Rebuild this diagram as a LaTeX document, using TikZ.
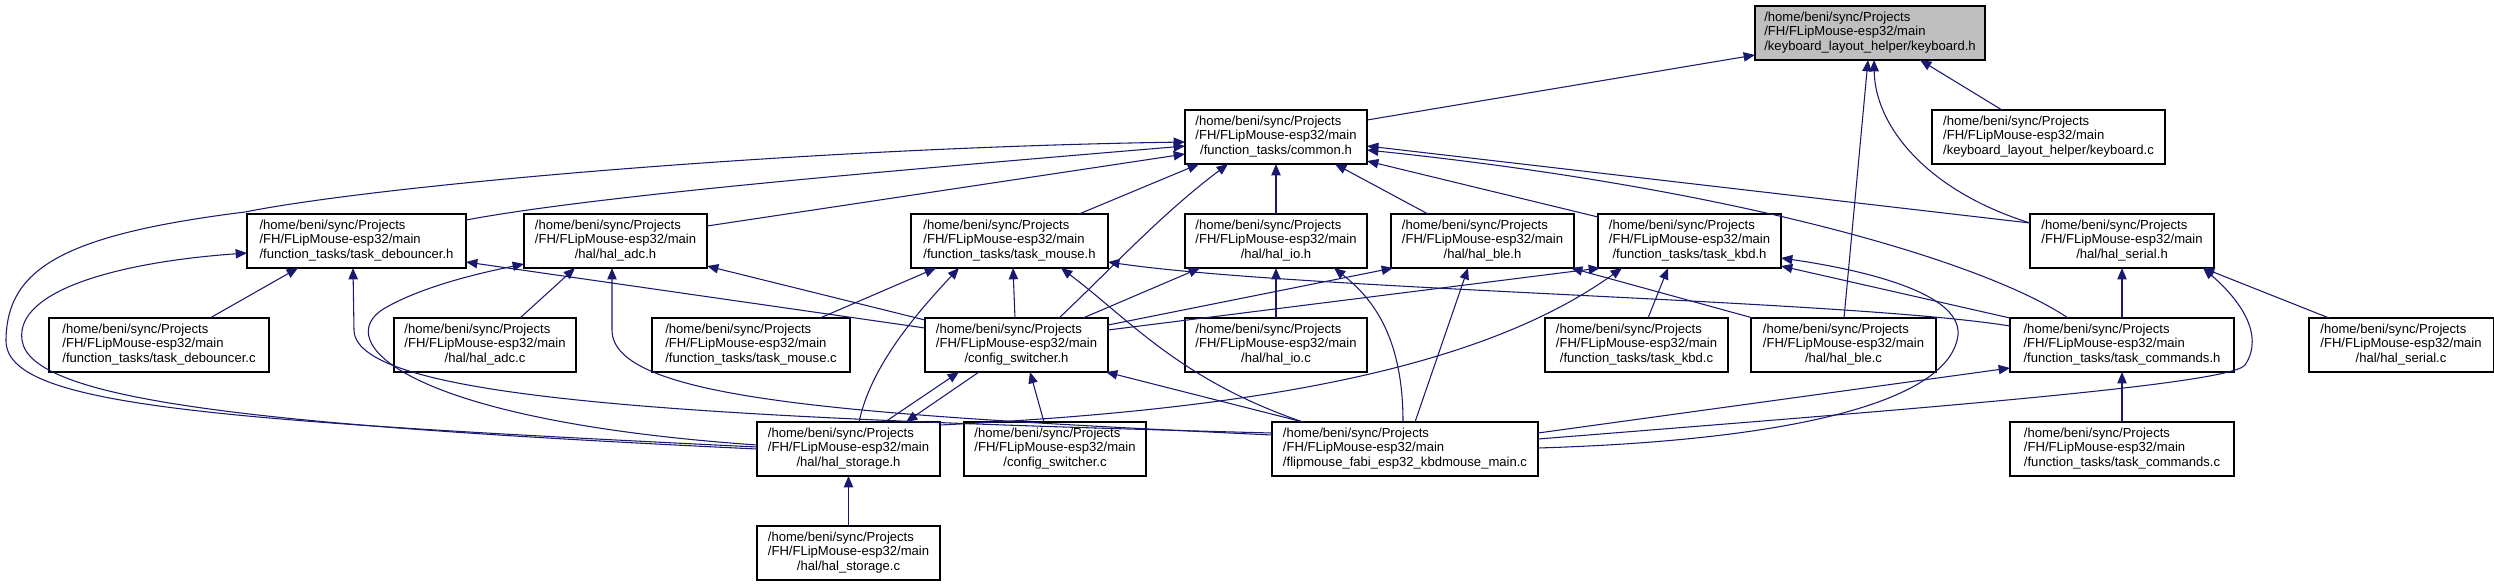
\documentclass[tikz,border=0pt]{standalone}
\usepackage{fontspec}
\setmainfont{Liberation Sans}
\usetikzlibrary{arrows.meta}
\definecolor{edgecol}{HTML}{191970}
\definecolor{rootfill}{HTML}{BFBFBF}
\newcommand{\lbl}[1]{\begin{tabular}{@{}l@{}}/home/beni/sync/Projects\\/FH/FLipMouse-esp32/main\\\multicolumn{1}{@{}c@{}}{#1}\end{tabular}}
\begin{document}
\begin{tikzpicture}[x=0.75pt,y=-0.75pt,
  box/.style={draw=black, line width=0.8pt, fill=white, rectangle, inner sep=0pt, outer sep=0pt,
    minimum height=40.5pt, font=\fontsize{9.8pt}{11.1pt}\selectfont},
  edge/.style={draw=edgecol, line width=0.8pt, -{Triangle[length=8.5pt,width=7pt]}}]
\useasboundingbox (0,0) rectangle (2494,587);
% row 0
\node[box, fill=rootfill, minimum width=172.5pt] (KH) at (1870,33) {\lbl{/keyboard\_layout\_helper/keyboard.h}};
% row 1
\node[box, minimum width=136.5pt] (CH) at (1276,137) {\lbl{/function\_tasks/common.h}};
\node[box, minimum width=174.75pt] (KC) at (2048.5,137) {\lbl{/keyboard\_layout\_helper/keyboard.c}};
% row 2
\node[box, minimum width=164.25pt] (TDH) at (356.5,241) {\lbl{/function\_tasks/task\_debouncer.h}};
\node[box, minimum width=137.25pt] (ADH) at (615.5,241) {\lbl{/hal/hal\_adc.h}};
\node[box, minimum width=147.75pt] (TMH) at (1009.5,241) {\lbl{/function\_tasks/task\_mouse.h}};
\node[box, minimum width=136.5pt] (IOH) at (1276,241) {\lbl{/hal/hal\_io.h}};
\node[box, minimum width=137.25pt] (BLH) at (1482.5,241) {\lbl{/hal/hal\_ble.h}};
\node[box, minimum width=137.25pt] (TKH) at (1689.5,241) {\lbl{/function\_tasks/task\_kbd.h}};
\node[box, minimum width=138pt] (SEH) at (2122,241) {\lbl{/hal/hal\_serial.h}};
% row 3
\node[box, minimum width=165pt] (TDC) at (159,345) {\lbl{/function\_tasks/task\_debouncer.c}};
\node[box, minimum width=136.5pt] (ADC) at (485,345) {\lbl{/hal/hal\_adc.c}};
\node[box, minimum width=148.5pt] (TMC) at (751,345) {\lbl{/function\_tasks/task\_mouse.c}};
\node[box, minimum width=137.25pt] (CSH) at (1016.5,345) {\lbl{/config\_switcher.h}};
\node[box, minimum width=136.5pt] (IOC) at (1276,345) {\lbl{/hal/hal\_io.c}};
\node[box, minimum width=137.25pt] (TKC) at (1636.5,345) {\lbl{/function\_tasks/task\_kbd.c}};
\node[box, minimum width=138.75pt] (BLC) at (1843.5,345) {\lbl{/hal/hal\_ble.c}};
\node[box, minimum width=168pt] (TCH) at (2122,345) {\lbl{/function\_tasks/task\_commands.h}};
\node[box, minimum width=138pt] (SEC) at (2401,345) {\lbl{/hal/hal\_serial.c}};
% row 4
\node[box, minimum width=137.25pt] (STH) at (848.5,449) {\lbl{/hal/hal\_storage.h}};
\node[box, minimum width=136.5pt] (CSC) at (1055,449) {\lbl{/config\_switcher.c}};
\node[box, minimum width=199.5pt] (MAIN) at (1405,449) {\lbl{/flipmouse\_fabi\_esp32\_kbdmouse\_main.c}};
\node[box, minimum width=168pt] (TCC) at (2122,449) {\lbl{/function\_tasks/task\_commands.c}};
% row 5
\node[box, minimum width=137.25pt] (STC) at (848.5,553) {\lbl{/hal/hal\_storage.c}};

% edges into keyboard.h
\draw[edge] (CH.east |- 0,120) -- (KH.west |- 0,55);
\draw[edge] (KC.north -| 2002,0) -- (KH.south -| 1920,0);
\draw[edge] (BLC.north -| 1844,0) -- (KH.south -| 1868,0);
\draw[edge] (SEH.west |- 0,223) .. controls (1925,190) and (1875,125) .. (KH.south -| 1874,0);
% edges into common.h
\draw[edge] (STH.west |- 0,447) .. controls (200,420) and (5,405) .. (6,340)
  .. controls (7,270) and (60,235) .. (245,212) .. controls (380,185) and (800,148) .. (CH.west |- 0,142);
\draw[edge] (TDH.east |- 0,220) .. controls (600,195) and (900,170) .. (CH.west |- 0,146);
\draw[edge] (ADH.east |- 0,226) -- (CH.west |- 0,154);
\draw[edge] (TMH.north -| 1079,0) -- (CH.south -| 1199,0);
\draw[edge] (CSH.north -| 1059,0) .. controls (1110,270) and (1160,215) .. (CH.south -| 1228,0);
\draw[edge] (IOH.north) -- (CH.south);
\draw[edge] (BLH.north -| 1428,0) -- (CH.south -| 1335,0);
\draw[edge] (TKH.west |- 0,217) -- (CH.east |- 0,161);
\draw[edge] (SEH.west |- 0,223) -- (CH.east |- 0,146);
\draw[edge] (TCH.north -| 2068,0) .. controls (1990,265) and (1750,190) .. (CH.east |- 0,150);
% edges into task_debouncer.h
\draw[edge] (STH.west |- 0,449) .. controls (250,425) and (30,400) .. (22,340)
  .. controls (15,290) and (120,262) .. (TDH.west |- 0,253);
\draw[edge] (TDC.north -| 210,0) -- (TDH.south -| 298,0);
\draw[edge] (CSH.west |- 0,328) -- (TDH.east |- 0,262);
\draw[edge] (MAIN.west |- 0,433) .. controls (700,418) and (355,400) .. (354,330) -- (TDH.south -| 353,0);
% edges into hal_adc.h
\draw[edge] (ADC.north -| 520,0) -- (ADH.south -| 575,0);
\draw[edge] (CSH.west |- 0,320) -- (ADH.east |- 0,266);
\draw[edge] (STH.west |- 0,445) .. controls (400,420) and (330,340) .. (385,308)
  .. controls (420,288) and (470,275) .. (ADH.west |- 0,264);
\draw[edge] (MAIN.west |- 0,435) .. controls (850,415) and (612,400) .. (612,330) -- (ADH.south -| 612,0);
% edges into task_mouse.h
\draw[edge] (TMC.north -| 820,0) -- (TMH.south -| 936,0);
\draw[edge] (STH.north -| 859,0) .. controls (870,370) and (910,320) .. (TMH.south -| 959,0);
\draw[edge] (CSH.north -| 1015,0) -- (TMH.south -| 1013,0);
\draw[edge] (MAIN.north -| 1303,0) .. controls (1180,380) and (1130,320) .. (TMH.south -| 1061,0);
\draw[edge] (TCH.west |- 0,326) .. controls (1850,300) and (1300,290) .. (TMH.east |- 0,262);
% edges into hal_io.h
\draw[edge] (CSH.north -| 1083,0) -- (IOH.south -| 1200,0);
\draw[edge] (IOC.north) -- (IOH.south);
\draw[edge] (MAIN.north -| 1403,0) .. controls (1403,340) and (1375,300) .. (IOH.south -| 1334,0);
% edges into hal_ble.h
\draw[edge] (CSH.east |- 0,325) -- (BLH.south -| 1393,0);
\draw[edge] (MAIN.north -| 1415,0) -- (BLH.south -| 1468,0);
\draw[edge] (BLC.north -| 1753,0) -- (BLH.south -| 1571,0);
% edges into task_kbd.h
\draw[edge] (CSH.east |- 0,330) -- (TKH.south -| 1600,0);
\draw[edge] (STH.east |- 0,425) .. controls (1250,410) and (1480,370) .. (TKH.south -| 1622,0);
\draw[edge] (TKC.north -| 1648,0) -- (TKH.south -| 1668,0);
\draw[edge] (TCH.north west) -- (TKH.east |- 0,266);
\draw[edge] (MAIN.east |- 0,448) .. controls (1800,440) and (1950,400) .. (1958,335)
  .. controls (1962,290) and (1850,268) .. (TKH.east |- 0,258);
% edges into hal_serial.h
\draw[edge] (TCH.north) -- (SEH.south);
\draw[edge] (SEC.north -| 2329,0) -- (SEH.south -| 2203,0);
\draw[edge] (MAIN.east |- 0,439) .. controls (1900,410) and (2230,385) .. (2245,365)
  .. controls (2265,335) and (2240,300) .. (SEH.south -| 2203,0);
% edges into config_switcher.h / hal_storage.h
\draw[edge] (STH.north -| 885,0) -- (CSH.south -| 959,0);
\draw[edge] (CSH.south -| 979,0) -- (STH.north -| 906,0);
\draw[edge] (CSC.north -| 1044,0) -- (CSH.south -| 1030,0);
\draw[edge] (MAIN.north -| 1303,0) -- (CSH.south -| 1106,0);
\draw[edge] (STC.north) -- (STH.south);
% edges into task_commands.h
\draw[edge] (MAIN.east |- 0,433) -- (TCH.west |- 0,368);
\draw[edge] (TCC.north) -- (TCH.south);
\end{tikzpicture}
\end{document}
